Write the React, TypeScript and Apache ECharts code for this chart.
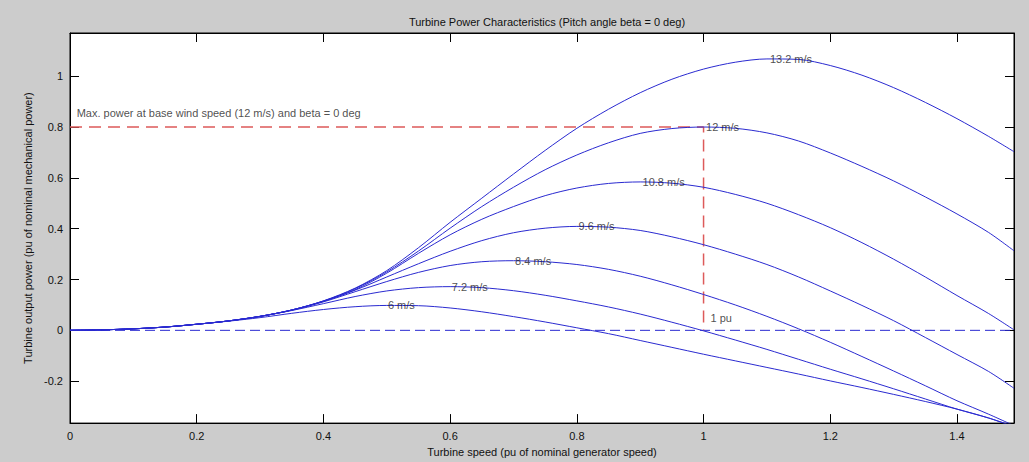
import React, { useEffect, useRef } from "react";
import * as echarts from "echarts";

// Turbine speed (pu) sample points
const speeds = [0, 0.05, 0.1, 0.15, 0.2, 0.25, 0.3, 0.35, 0.4, 0.45, 0.5, 0.55, 0.6, 0.65, 0.7, 0.75, 0.8, 0.85, 0.9, 0.95, 1.0, 1.05, 1.1, 1.15, 1.2, 1.25, 1.3, 1.35, 1.4, 1.45, 1.49];

// Output power (pu) per wind speed
const p13_2 = [0, 0.002, 0.006, 0.013, 0.024, 0.037, 0.055, 0.080, 0.116, 0.166, 0.235, 0.325, 0.425, 0.520, 0.615, 0.708, 0.795, 0.870, 0.935, 0.988, 1.028, 1.055, 1.068, 1.066, 1.042, 1.004, 0.955, 0.897, 0.833, 0.763, 0.703];
const p12 = [0, 0.002, 0.006, 0.013, 0.024, 0.037, 0.055, 0.080, 0.115, 0.164, 0.230, 0.312, 0.402, 0.487, 0.563, 0.632, 0.690, 0.738, 0.775, 0.794, 0.800, 0.795, 0.777, 0.745, 0.698, 0.645, 0.588, 0.525, 0.458, 0.385, 0.313];
const p10_8 = [0, 0.002, 0.006, 0.013, 0.024, 0.037, 0.055, 0.080, 0.115, 0.160, 0.225, 0.303, 0.376, 0.437, 0.487, 0.530, 0.560, 0.578, 0.584, 0.579, 0.563, 0.535, 0.500, 0.455, 0.404, 0.345, 0.280, 0.210, 0.137, 0.066, 0.002];
const p9_6 = [0, 0.002, 0.006, 0.013, 0.024, 0.037, 0.055, 0.080, 0.114, 0.158, 0.210, 0.262, 0.311, 0.353, 0.384, 0.402, 0.409, 0.406, 0.393, 0.368, 0.337, 0.300, 0.259, 0.210, 0.155, 0.098, 0.038, -0.028, -0.095, -0.162, -0.228];
const p8_4 = [0, 0.002, 0.006, 0.013, 0.024, 0.037, 0.055, 0.079, 0.112, 0.152, 0.192, 0.228, 0.255, 0.270, 0.274, 0.270, 0.259, 0.240, 0.213, 0.179, 0.141, 0.100, 0.055, 0.006, -0.047, -0.103, -0.160, -0.218, -0.277, -0.330, -0.375];
const p7_2 = [0, 0.002, 0.006, 0.013, 0.024, 0.037, 0.055, 0.078, 0.105, 0.133, 0.155, 0.168, 0.172, 0.168, 0.156, 0.138, 0.116, 0.092, 0.064, 0.032, -0.002, -0.038, -0.075, -0.114, -0.153, -0.191, -0.230, -0.270, -0.310, -0.345, -0.378];
const p6 = [0, 0.002, 0.006, 0.013, 0.024, 0.036, 0.050, 0.067, 0.082, 0.093, 0.098, 0.097, 0.088, 0.073, 0.054, 0.033, 0.010, -0.013, -0.040, -0.067, -0.094, -0.120, -0.146, -0.172, -0.199, -0.225, -0.252, -0.280, -0.310, -0.345, -0.380];

const curves = [p13_2, p12, p10_8, p9_6, p8_4, p7_2, p6];

// Curve labels: text and data position (centre of text)
const curveLabelTexts = ["13.2 m/s", "12 m/s", "10.8 m/s", "9.6 m/s", "8.4 m/s", "7.2 m/s", "6 m/s"];
const curveLabelX = [1.138, 1.03, 0.937, 0.831, 0.731, 0.631, 0.523];
const curveLabelY = [1.067, 0.80, 0.582, 0.409, 0.272, 0.17, 0.098];

// Reference lines
const zeroLine = [[0, 0], [1.49, 0]];
const maxPowerLine = [[0, 0.8], [1, 0.8], [1, 0]];

// Annotation texts (left aligned at the point)
const noteTexts = ["Max. power at base wind speed (12 m/s) and beta = 0 deg", "1 pu"];
const noteX = [0.0105, 1.011];
const noteY = [0.854, 0.047];

const FONT = "'Liberation Sans', Arial, Helvetica, sans-serif";

export default function App() {
  const ref = useRef<HTMLDivElement>(null);
  useEffect(() => {
    if (!ref.current) return;
    const chart = echarts.init(ref.current, undefined, { renderer: "svg" });
    const axisCommon = {
      axisLine: { show: true, onZero: false, lineStyle: { color: "#000", width: 1 } },
      axisTick: { show: true, inside: true, length: 9, lineStyle: { color: "#000", width: 1 } },
      splitLine: { show: false },
    };
    const curveSeries = curves.map((c, i) => ({
      type: "line",
      name: curveLabelTexts[i],
      data: speeds.map((s, j) => [s, c[j]]),
      showSymbol: false,
      smooth: 0.3,
      silent: true,
      lineStyle: { color: "#2a2ad0", width: 1 },
      z: 3,
    }));
    chart.setOption({
      animation: false,
      backgroundColor: "#cccccc",
      title: {
        text: "Turbine Power Characteristics (Pitch angle beta = 0 deg)",
        left: 542,
        textAlign: "center",
        top: 11,
        textStyle: { fontFamily: FONT, fontSize: 11, fontWeight: "normal", color: "#111" },
      },
      grid: {
        left: 70,
        right: 15,
        top: 33,
        bottom: 38,
        show: true,
        backgroundColor: "#ffffff",
        borderColor: "#000",
        borderWidth: 1,
      },
      xAxis: [
        {
          type: "value",
          min: 0,
          max: 1.49,
          minInterval: 0.2,
          maxInterval: 0.2,
          ...axisCommon,
          axisLabel: { fontFamily: FONT, fontSize: 11, color: "#111", margin: 7, showMaxLabel: false },
          name: "Turbine speed (pu of nominal generator speed)",
          nameLocation: "middle",
          nameGap: 17,
          nameTextStyle: { fontFamily: FONT, fontSize: 11, color: "#111", verticalAlign: "top" },
        },
        {
          type: "value",
          position: "top",
          min: 0,
          max: 1.49,
          minInterval: 0.2,
          maxInterval: 0.2,
          ...axisCommon,
          axisLabel: { show: false },
        },
      ],
      yAxis: [
        {
          type: "value",
          min: -0.365,
          max: 1.17,
          minInterval: 0.2,
          maxInterval: 0.2,
          ...axisCommon,
          axisLabel: { fontFamily: FONT, fontSize: 11, color: "#111", margin: 7, showMinLabel: false, showMaxLabel: false },
          name: "Turbine output power (pu of nominal mechanical power)",
          nameLocation: "middle",
          nameGap: 25,
          nameTextStyle: { fontFamily: FONT, fontSize: 11, color: "#111" },
        },
        {
          type: "value",
          position: "right",
          min: -0.365,
          max: 1.17,
          minInterval: 0.2,
          maxInterval: 0.2,
          ...axisCommon,
          axisLabel: { show: false },
        },
      ],
      series: [
        {
          type: "line",
          data: zeroLine,
          showSymbol: false,
          silent: true,
          lineStyle: { color: "#2a2ad0", width: 1, type: [10, 5] },
          z: 2,
        },
        {
          type: "line",
          data: maxPowerLine,
          showSymbol: false,
          silent: true,
          lineStyle: { color: "#dd5a5a", width: 1.5, type: [12, 7] },
          z: 2,
        },
        ...curveSeries,
        {
          type: "scatter",
          silent: true,
          symbolSize: 1,
          itemStyle: { color: "rgba(0,0,0,0)" },
          z: 5,
          label: {
            show: true,
            position: "inside",
            formatter: (p: any) => p.name,
            fontFamily: FONT,
            fontSize: 11,
            color: "#222",
            align: "center",
            verticalAlign: "middle",
          },
          data: curveLabelTexts.map((t, i) => ({ name: t, value: [curveLabelX[i], curveLabelY[i]] })),
        },
        {
          type: "scatter",
          silent: true,
          symbolSize: 1,
          itemStyle: { color: "rgba(0,0,0,0)" },
          z: 5,
          label: {
            show: true,
            position: "inside",
            formatter: (p: any) => p.name,
            fontFamily: FONT,
            fontSize: 11,
            color: "#222",
            align: "left",
            verticalAlign: "middle",
          },
          data: noteTexts.map((t, i) => ({ name: t, value: [noteX[i], noteY[i]] })),
        },
      ],
    });
    return () => chart.dispose();
  }, []);
  return (
    <div
      ref={ref}
      style={{ position: "fixed", left: 0, top: 0, width: 1029, height: 462 }}
    />
  );
}
